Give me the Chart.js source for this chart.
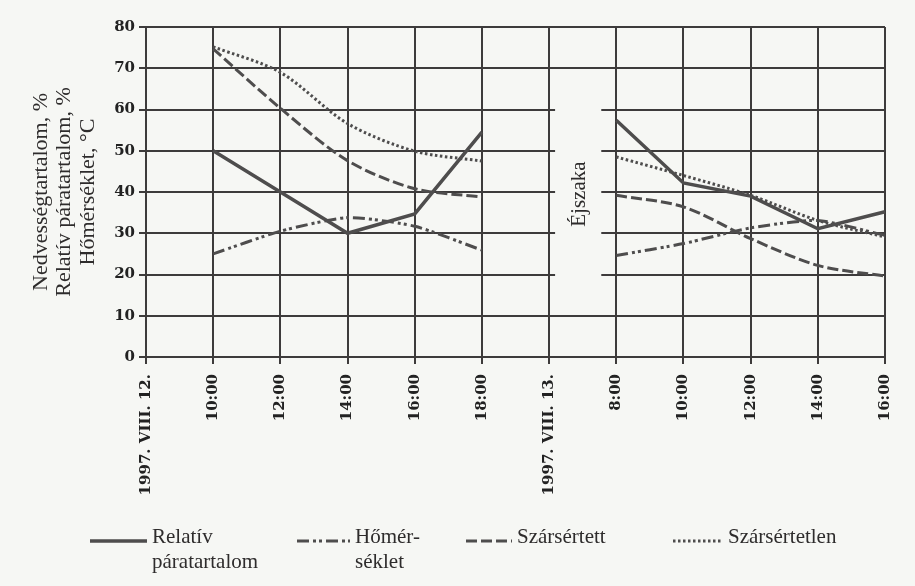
<!DOCTYPE html>
<html>
<head>
<meta charset="utf-8">
<script src="https://cdn.jsdelivr.net/npm/chart.js@4.4.1/dist/chart.umd.min.js"></script>
<style>
    html, body { margin: 0; padding: 0; background: #f6f7f4; }
    canvas { display: block; }
</style>
</head>
<body>
<canvas id="dryingChart" width="915" height="586"></canvas>
<script>
// Data (two days, night gap in between)
const categories = ['1997. VIII. 12.', '10:00', '12:00', '14:00', '16:00', '18:00',
                    '1997. VIII. 13.', '8:00', '10:00', '12:00', '14:00', '16:00'];
const relHumidity   = [null, 50, 40, 30, 34.7, 54.5, null, 57.4, 42.2, 39, 31.1, 35.2];
const temperature   = [null, 25, 30.5, 33.8, 31.7, 25.9, null, 24.6, 27.5, 31.3, 33.1, 29.5];
const stemCrushed   = [null, 74.7, 60.3, 47.6, 40.8, 38.8, null, 39.2, 36.4, 28.7, 22.2, 19.6];
const stemUncrushed = [null, 75.2, 69, 56.6, 49.9, 47.5, null, 48.5, 44, 39.2, 33.1, 29.1];
const seriesLabels = ['Relatív\npáratartalom', 'Hőmér-\nséklet', 'Szársértett', 'Szársértetlen'];
const yTitle = ['Nedvességtartalom, %', 'Relatív páratartalom, %', 'Hőmérséklet, °C'];
const nightLabel = 'Éjszaka';
const yMin = 0, yMax = 80, yStep = 10;

const BG = '#f6f7f4';
const INK = '#3d3b3b';
const LINE = '#4e4d4d';

// Blank out the horizontal grid in the night gap and write "Éjszaka"
const nightGap = {
    id: 'nightGap',
    beforeDatasetsDraw(chart) {
        const { ctx, scales: { x, y } } = chart;
        const left = x.getPixelForValue(6) + 6;
        const right = x.getPixelForValue(7) - 15;
        const top = y.getPixelForValue(65);
        const bottom = y.getPixelForValue(15);
        ctx.save();
        ctx.fillStyle = BG;
        ctx.fillRect(left, top, right - left, bottom - top);
        ctx.translate((left + right) / 2 + 1, y.getPixelForValue(39.5));
        ctx.rotate(-Math.PI / 2);
        ctx.fillStyle = '#2e2c2c';
        ctx.font = '21px "Liberation Serif"';
        ctx.textAlign = 'center';
        ctx.textBaseline = 'middle';
        ctx.fillText(nightLabel, 0, 0);
        ctx.restore();
    }
};

// Legend under the chart, with two-line labels
const bottomLegend = {
    id: 'bottomLegend',
    afterDraw(chart) {
        const { ctx } = chart;
        const slots = [[90, 147], [297, 350], [466, 512], [673, 723]];
        ctx.save();
        chart.data.datasets.forEach((ds, i) => {
            const [x0, x1] = slots[i];
            ctx.strokeStyle = ds.borderColor;
            ctx.lineWidth = ds.borderWidth;
            ctx.setLineDash(ds.borderDash || []);
            ctx.beginPath();
            ctx.moveTo(x0, 541);
            ctx.lineTo(x1, 541);
            ctx.stroke();
            ctx.setLineDash([]);
            ctx.fillStyle = '#2e2c2c';
            ctx.font = '21px "Liberation Serif"';
            ctx.textBaseline = 'middle';
            ds.label.split('\n').forEach((line, k) => {
                ctx.fillText(line, x1 + 5, 537 + k * 25);
            });
        });
        ctx.restore();
    }
};

const ctx = document.getElementById('dryingChart');

new Chart(ctx, {
    type: 'line',
    data: {
        labels: categories,
        datasets: [{
            label: seriesLabels[0],
            data: relHumidity,
            borderColor: LINE,
            borderWidth: 3.5,
            tension: 0
        }, {
            label: seriesLabels[1],
            data: temperature,
            borderColor: LINE,
            borderWidth: 3,
            borderDash: [12, 4, 3, 3, 3, 4],
            tension: 0.2
        }, {
            label: seriesLabels[2],
            data: stemCrushed,
            borderColor: LINE,
            borderWidth: 3,
            borderDash: [11, 4],
            tension: 0.3
        }, {
            label: seriesLabels[3],
            data: stemUncrushed,
            borderColor: LINE,
            borderWidth: 3,
            borderDash: [2.5, 2.5],
            tension: 0.3
        }]
    },
    options: {
        responsive: false,
        animation: false,
        spanGaps: false,
        layout: { padding: { left: 0, right: 30, top: 27, bottom: 0 } },
        elements: { point: { radius: 0 } },
        plugins: {
            legend: { display: false },
            tooltip: { enabled: false }
        },
        scales: {
            x: {
                offset: false,
                afterFit: (scale) => { scale.height = 229; },
                grid: { color: INK, lineWidth: 2, tickLength: 7 },
                border: { color: INK, width: 2 },
                ticks: {
                    autoSkip: false,
                    maxRotation: 90,
                    minRotation: 90,
                    padding: 10,
                    color: '#222',
                    font: { family: '"DejaVu Serif"', size: 15, weight: 'bold' }
                }
            },
            y: {
                min: yMin,
                max: yMax,
                afterFit: (scale) => { scale.width = 146; },
                grid: { color: INK, lineWidth: 2, tickLength: 7 },
                border: { color: INK, width: 2 },
                ticks: {
                    stepSize: yStep,
                    padding: 4,
                    color: '#222',
                    font: { family: '"DejaVu Serif"', size: 15, weight: 'bold' }
                },
                title: {
                    display: true,
                    text: yTitle,
                    color: '#2e2c2c',
                    padding: { top: 30, bottom: 0 },
                    font: { family: '"Liberation Serif"', size: 22, lineHeight: 1.05 }
                }
            }
        }
    },
    plugins: [nightGap, bottomLegend]
});
</script>
</body>
</html>
